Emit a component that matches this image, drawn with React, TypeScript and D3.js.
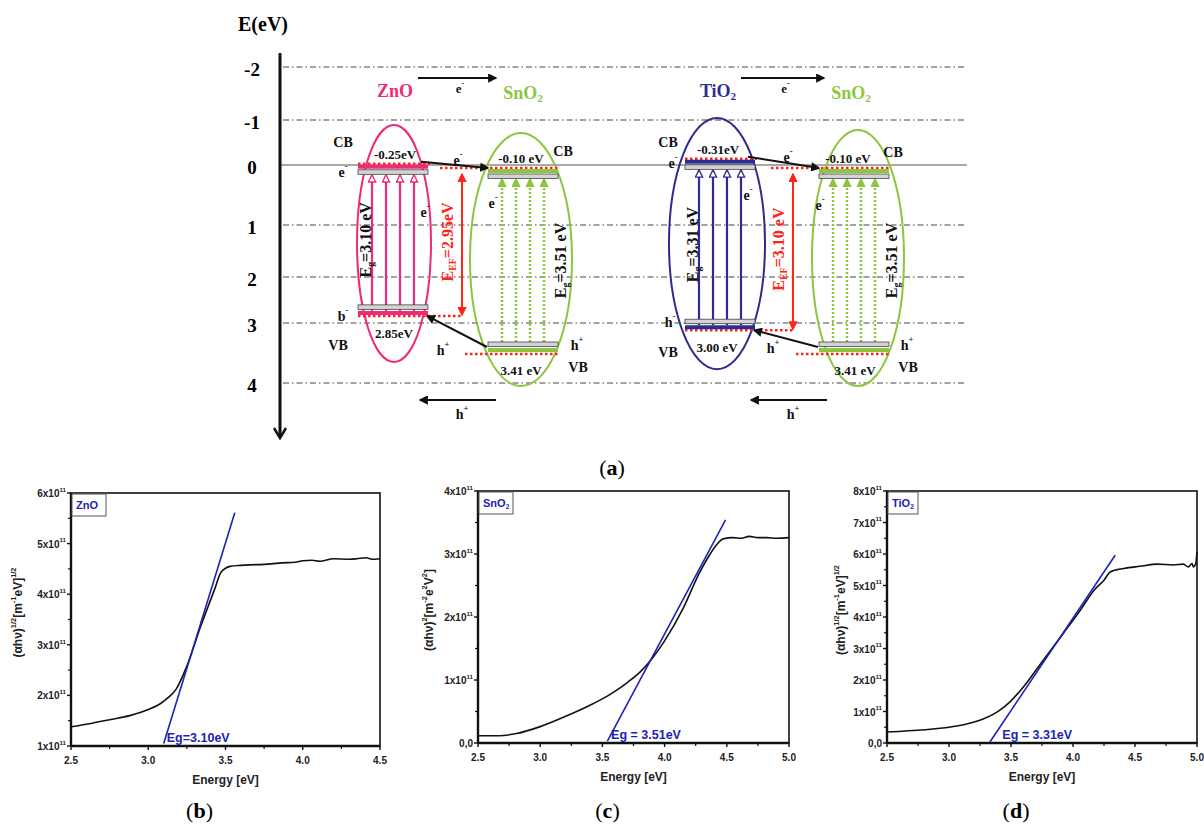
import React from 'react';
import * as d3 from 'd3';

const serif = '"Liberation Serif", "Times New Roman", serif';
const sans = '"Liberation Sans", Arial, sans-serif';

// ---------- (a) band diagram data ----------
const energyTicks = [-2, -1, 0, 1, 2, 3, 4];
const oxideNames = ['ZnO', 'SnO2', 'TiO2', 'SnO2'];
// band edges where they are drawn on the E(eV) axis
const cbLevel = [0.03, 0.1, -0.07, 0.1];
const vbLevel = [2.78, 3.45, 3.07, 3.45];
const ellipseTop = [-0.89, -0.71, -1.04, -0.78];
const ellipseBottom = [3.65, 4.05, 3.77, 4.05];
const cbText = ['-0.25eV', '-0.10 eV', '-0.31eV', '-0.10 eV'];
const vbText = ['2.85eV', '3.41 eV', '3.00 eV', '3.41 eV'];
const egText = ['=3.10 eV', '=3.51 eV', '=3.31 eV', '=3.51 eV'];
const efText = ['=2.95eV', '=3.10 eV'];

// ---------- (b)(c)(d) Tauc plots data (signal in units of 1e11) ----------
const znoEnergy = [2.5, 2.62, 2.75, 2.88, 3.0, 3.08, 3.13, 3.18, 3.25, 3.34, 3.43, 3.47, 3.53, 3.6, 3.66, 3.75, 3.87, 3.95, 4.0, 4.06, 4.11, 4.2, 4.3, 4.35, 4.41, 4.45, 4.5];
const znoSignal = [1.38, 1.44, 1.52, 1.6, 1.72, 1.84, 1.96, 2.12, 2.58, 3.37, 4.1, 4.43, 4.55, 4.57, 4.58, 4.59, 4.62, 4.63, 4.66, 4.67, 4.65, 4.7, 4.69, 4.7, 4.72, 4.69, 4.7];
const znoTangent = [[3.1, 1.05], [3.56, 5.61]];

const sno2Energy = [2.5, 2.67, 2.81, 3.0, 3.2, 3.4, 3.5, 3.6, 3.7, 3.8, 3.9, 4.0, 4.15, 4.28, 4.36, 4.42, 4.47, 4.55, 4.62, 4.68, 4.75, 4.82, 4.9, 5.0];
const sno2Signal = [0.115, 0.115, 0.15, 0.26, 0.42, 0.6, 0.7, 0.82, 0.96, 1.12, 1.34, 1.62, 2.14, 2.7, 2.98, 3.15, 3.24, 3.26, 3.25, 3.28, 3.26, 3.26, 3.25, 3.26];
const sno2Tangent = [[3.54, 0.03], [4.49, 3.54]];

const tio2Energy = [2.5, 2.8, 3.01, 3.15, 3.28, 3.39, 3.49, 3.6, 3.76, 3.92, 4.06, 4.17, 4.25, 4.3, 4.41, 4.54, 4.68, 4.81, 4.89, 4.93, 4.96, 4.97, 4.99, 5.0];
const tio2Signal = [0.35, 0.42, 0.51, 0.61, 0.77, 0.99, 1.3, 1.78, 2.63, 3.47, 4.22, 4.85, 5.17, 5.43, 5.54, 5.61, 5.68, 5.65, 5.68, 5.59, 5.7, 5.59, 5.7, 6.07];
const tio2Tangent = [[3.33, 0.03], [4.34, 5.96]];

// ---------- layout ----------
const colors = ['#ee2a7b', '#8cc63f', '#2e2d8f', '#8cc63f'];
const ellipseCx = [394, 521, 717, 858];
const ellipseRx = [37, 51, 48, 46];
const barCx = [393, 523, 720, 854];
const headerX = [395, 523, 718, 851];
const pairEfX = [462, 793];
const arrowOffsets = [-21, -7, 7, 21];
const red = '#ff2416';

const energyY = d3.scaleLinear().domain(energyTicks).range([67, 120, 165, 225, 277, 323, 383]);

type Part = [string, number?];

function Rich({ x, y, parts, size, anchor = 'middle', fill = '#111', family = serif, weight = 'bold', rotate = 0 }: any) {
  let cur = 0;
  return (
    <text transform={`translate(${x},${y}) rotate(${rotate})`} textAnchor={anchor} dominantBaseline="central"
      fontFamily={family} fontSize={size} fontWeight={weight} fill={fill}>
      {(parts as Part[]).map(([t, k = 0], i) => {
        const target = k > 0 ? -0.42 * size : k < 0 ? 0.3 * size : 0;
        const dy = target - cur;
        cur = target;
        return <tspan key={i} dy={dy} fontSize={k ? size * 0.62 : size}>{t}</tspan>;
      })}
    </text>
  );
}

const nameParts = (n: string): Part[] => (n.endsWith('2') ? [[n.slice(0, -1)], ['2', -1]] : [[n]]);
const eMinus: Part[] = [['e'], ['-', 1]];
const hPlus: Part[] = [['h'], ['+', 1]];

// free annotations of the diagram (text, x, y)
const annotations: [Part[], number, number][] = [
  [[['CB']], 343, 142], [eMinus, 343, 172], [eMinus, 425, 212], [eMinus, 458, 160],
  [[['CB']], 563, 151], [eMinus, 493, 203], [[['b'], ['-', 1]], 343, 316], [[['VB']], 338, 345],
  [hPlus, 443, 350], [hPlus, 577, 345], [[['VB']], 578, 367],
  [[['CB']], 668, 142], [eMinus, 673, 163], [eMinus, 748, 195], [eMinus, 788, 157],
  [[['CB']], 893, 152], [eMinus, 820, 205], [[['h'], ['-', 1]], 670, 322], [[['VB']], 668, 352],
  [hPlus, 773, 348], [hPlus, 907, 345], [[['VB']], 908, 367],
];

function BandDiagram() {
  const grid = energyTicks.filter((t) => t !== 0);
  return (
    <g>
      <defs>
        {[['blk', '#111', '#111'], ['red', red, red], ['pink', 'white', colors[0]], ['green', colors[1], colors[1]], ['blue', 'white', colors[2]]].map(([id, fill, stroke]) => (
          <marker key={id} id={`m-${id}`} viewBox="0 0 10 10" refX="9" refY="5" markerUnits="userSpaceOnUse"
            markerWidth="9" markerHeight="9" orient="auto-start-reverse">
            <path d="M1,1 L9,5 L1,9 z" fill={fill} stroke={stroke} strokeWidth="1.5" />
          </marker>
        ))}
      </defs>

      {/* energy axis */}
      <text x={238} y={24} fontFamily={serif} fontWeight="bold" fontSize={20} dominantBaseline="central">E(eV)</text>
      {grid.map((t) => (
        <line key={t} x1={283} x2={967} y1={energyY(t)} y2={energyY(t)} stroke="#444" strokeWidth={1} strokeDasharray="6,3,1.5,3" />
      ))}
      <line x1={280} x2={967} y1={energyY(0)} y2={energyY(0)} stroke="#555" strokeWidth={1.2} />
      {energyTicks.map((t) => (
        <text key={t} x={252} y={energyY(t) + 2} textAnchor="middle" dominantBaseline="central" fontFamily={serif}
          fontWeight="bold" fontSize={19}>{t}</text>
      ))}
      <line x1={280} x2={280} y1={53} y2={436} stroke="#111" strokeWidth={3} />
      <path d="M274,428 L280,438 L286,428" fill="none" stroke="#111" strokeWidth={2.5} />

      {/* ellipses */}
      {oxideNames.map((n, i) => {
        const t = energyY(ellipseTop[i]);
        const b = energyY(ellipseBottom[i]);
        return <ellipse key={i} cx={ellipseCx[i]} cy={(t + b) / 2} rx={ellipseRx[i]} ry={(b - t) / 2} fill="none" stroke={colors[i]} strokeWidth={2} />;
      })}

      {/* excitation arrows */}
      {oxideNames.map((n, i) => {
        const yc = energyY(cbLevel[i]);
        const yv = energyY(vbLevel[i]);
        const dotted = i % 2 === 1;
        const marker = i === 0 ? 'pink' : i === 2 ? 'blue' : 'green';
        return arrowOffsets.map((o, k) => (
          <line key={`${i}-${k}`} x1={barCx[i] + o} x2={barCx[i] + o} y1={yv - (dotted ? 8 : 2)} y2={yc + 8}
            stroke={colors[i]} strokeWidth={dotted ? 2.5 : 2.2} strokeDasharray={dotted ? '2,2' : undefined}
            markerEnd={`url(#m-${marker})`} />
        ));
      })}

      {/* red dotted Fermi levels, E_EF arrows, transfer lines */}
      {pairEfX.map((ef, p) => {
        const a = 2 * p;
        const b = a + 1;
        const yca = energyY(cbLevel[a]);
        const ycb = energyY(cbLevel[b]);
        const yva = energyY(vbLevel[a]);
        const yvb = energyY(vbLevel[b]);
        const dots = { stroke: red, strokeWidth: 2.5, strokeDasharray: '2.5,2.5' };
        const hx = (headerX[a] + headerX[b]) / 2;
        return (
          <g key={p}>
            <line x1={barCx[a] - 35} x2={barCx[a] + 37} y1={yca - 3} y2={yca - 3} {...dots} />
            <line x1={ef - 22} x2={barCx[b] + 35} y1={ycb - 3} y2={ycb - 3} {...dots} />
            <line x1={barCx[a] - 35} x2={ef} y1={yva + 3} y2={yva + 3} {...dots} />
            <line x1={ef + 3} x2={barCx[b] + 35} y1={yvb + 4} y2={yvb + 4} {...dots} />
            <line x1={ef} x2={ef} y1={ycb + 3} y2={yva + 2} stroke={red} strokeWidth={2}
              markerStart="url(#m-red)" markerEnd="url(#m-red)" />
            <Rich x={ef - 15} y={(ycb + yva) / 2} rotate={-90} size={16} fill={red}
              parts={[['E'], ['EF', -1], [efText[p]]]} />
            <line x1={barCx[a] + 28} x2={barCx[b] - 35} y1={yca - 5} y2={ycb - 3} stroke="#111" strokeWidth={2}
              markerEnd="url(#m-blk)" />
            <line x1={barCx[b] - 36} x2={barCx[a] + 34} y1={yvb - 3} y2={yva + 3} stroke="#111" strokeWidth={2}
              markerEnd="url(#m-blk)" />
            {/* header */}
            <Rich x={headerX[a]} y={91} size={18} fill={colors[a]} parts={nameParts(oxideNames[a])} />
            <Rich x={headerX[b]} y={93} size={18} fill={colors[b]} parts={nameParts(oxideNames[b])} />
            <line x1={headerX[a] + 23} x2={headerX[b] - 27} y1={78} y2={78} stroke="#111" strokeWidth={2}
              markerEnd="url(#m-blk)" />
            <Rich x={hx + 1} y={88} size={13} parts={eMinus} />
            {/* hole arrow at bottom */}
            <line x1={ef + 34} x2={ef - 42} y1={400} y2={400} stroke="#111" strokeWidth={2.2} markerEnd="url(#m-blk)" />
            <Rich x={ef} y={414} size={14} parts={hPlus} />
          </g>
        );
      })}

      {/* band bars and labels */}
      {oxideNames.map((n, i) => {
        const yc = energyY(cbLevel[i]);
        const yv = energyY(vbLevel[i]);
        const x0 = barCx[i] - 35;
        const mid = (yc + yv) / 2;
        const egX = i % 2 === 0 ? barCx[i] - 28 : barCx[i] + 37;
        return (
          <g key={i}>
            <rect x={x0} y={yc + 3} width={70} height={4.5} fill="#d4d4d4" stroke="#444" strokeWidth={0.8} />
            <line x1={x0} x2={x0 + 70} y1={yc} y2={yc} stroke={colors[i]} strokeWidth={4} />
            <rect x={x0} y={yv - 8} width={70} height={4.5} fill="#d4d4d4" stroke="#444" strokeWidth={0.8} />
            <line x1={x0} x2={x0 + 70} y1={yv} y2={yv} stroke={colors[i]} strokeWidth={4} />
            <Rich x={ellipseCx[i] + (i === 1 ? 0 : i === 3 ? -10 : 1)} y={yc - 13} size={13} parts={[[cbText[i]]]} />
            <Rich x={ellipseCx[i] + (i === 3 ? -3 : 0)} y={yv + 20} size={13} parts={[[vbText[i]]]} />
            <Rich x={egX} y={mid} rotate={-90} size={16} parts={[['E'], ['g', -1], [egText[i]]]} />
          </g>
        );
      })}

      {annotations.map(([parts, x, y], i) => (
        <Rich key={i} x={x} y={y} size={14} parts={parts} />
      ))}

      <text x={612} y={467} textAnchor="middle" dominantBaseline="central" fontFamily={serif} fontSize={22}>
        (<tspan fontWeight="bold">a</tspan>)
      </text>
    </g>
  );
}

// ---------- Tauc panels ----------
const panels = [
  {
    id: 'b', box: [71, 380, 493, 746], xDom: [2.5, 4.5], yDom: [1, 6], energy: znoEnergy, signal: znoSignal,
    tangent: znoTangent, name: 'ZnO', legendW: 34, eg: 'Eg=3.10eV', egX: 3.12,
    yLabel: [['(αhν)'], ['1/2', 1], ['[m'], ['-1', 1], ['eV]'], ['1/2', 1]] as Part[], yLabelX: 18,
  },
  {
    id: 'c', box: [478, 789, 491, 743], xDom: [2.5, 5.0], yDom: [0, 4], energy: sno2Energy, signal: sno2Signal,
    tangent: sno2Tangent, name: 'SnO2', legendW: 34, eg: 'Eg = 3.51eV', egX: 3.57,
    yLabel: [['(αhν)'], ['2', 1], ['[m'], ['-2', 1], ['e'], ['2', 1], ['V'], ['2', 1], [']']] as Part[], yLabelX: 429,
  },
  {
    id: 'd', box: [887, 1197, 491, 743], xDom: [2.5, 5.0], yDom: [0, 8], energy: tio2Energy, signal: tio2Signal,
    tangent: tio2Tangent, name: 'TiO2', legendW: 30, eg: 'Eg = 3.31eV', egX: 3.43,
    yLabel: [['(αhν)'], ['1/2', 1], ['[m'], ['-1', 1], ['eV]'], ['1/2', 1]] as Part[], yLabelX: 841,
  },
];

function Panel({ p }: any) {
  const [l, r, t, b] = p.box;
  const x = d3.scaleLinear().domain(p.xDom).range([l, r]);
  const y = d3.scaleLinear().domain(p.yDom).range([b, t]);
  const xt = d3.range(p.xDom[0], p.xDom[1] + 0.001, 0.5);
  const xm = d3.range(p.xDom[0] + 0.25, p.xDom[1], 0.5);
  const yt = d3.range(p.yDom[0], p.yDom[1] + 0.001, 1);
  const ym = d3.range(p.yDom[0] + 0.5, p.yDom[1], 1);
  const line = d3.line<number>().x((d, i) => x(p.energy[i])).y((d) => y(d)).curve(d3.curveMonotoneX);
  const tan = d3.line<number[]>().x((d) => x(d[0])).y((d) => y(d[1]));
  const blue = '#1c22b4';
  return (
    <g>
      <path d={line(p.signal) || ''} fill="none" stroke="#111" strokeWidth={1.6} />
      <path d={tan(p.tangent) || ''} fill="none" stroke={blue} strokeWidth={1.6} />
      <rect x={l} y={t} width={r - l} height={b - t} fill="none" stroke="#111" strokeWidth={1.6} />
      <line x1={l} x2={l} y1={t} y2={b} stroke="#111" strokeWidth={2.4} />
      <line x1={l} x2={r} y1={b} y2={b} stroke="#111" strokeWidth={2.4} />
      {xt.map((v) => (
        <g key={v}>
          <line x1={x(v)} x2={x(v)} y1={b} y2={b + 4} stroke="#111" strokeWidth={1.4} />
          <text x={x(v)} y={b + 14} textAnchor="middle" dominantBaseline="central" fontFamily={sans} fontWeight="bold" fontSize={10} fill="#222">{v.toFixed(1)}</text>
        </g>
      ))}
      {xm.map((v) => <line key={v} x1={x(v)} x2={x(v)} y1={b} y2={b + 3} stroke="#111" strokeWidth={1.2} />)}
      {yt.map((v) => (
        <g key={v}>
          <line x1={l - 4} x2={l} y1={y(v)} y2={y(v)} stroke="#111" strokeWidth={1.4} />
          <Rich x={l - 5} y={y(v)} size={10} anchor="end" family={sans} fill="#222"
            parts={v === 0 ? [['0,0']] : [[`${v}x10`], ['11', 1]]} />
        </g>
      ))}
      {ym.map((v) => <line key={v} x1={l - 3} x2={l} y1={y(v)} y2={y(v)} stroke="#111" strokeWidth={1.2} />)}
      <rect x={l + 1} y={t + 1} width={p.legendW} height={22} fill="white" stroke="#555" strokeWidth={1} />
      <Rich x={l + 5} y={t + 12} size={11} anchor="start" family={sans} fill={blue} parts={nameParts(p.name)} />
      <text x={x(p.egX)} y={b - 8} fontFamily={sans} fontWeight="bold" fontSize={12.5} fill={blue} dominantBaseline="central">{p.eg}</text>
      <text x={(l + r) / 2} y={b + 34} textAnchor="middle" dominantBaseline="central" fontFamily={sans} fontWeight="bold" fontSize={12} fill="#222">Energy [eV]</text>
      <Rich x={p.yLabelX} y={(t + b) / 2 - 7} rotate={-90} size={12} family={sans} fill="#222" parts={p.yLabel} />
      <text x={(l + r) / 2 - 26} y={810} textAnchor="middle" dominantBaseline="central" fontFamily={serif} fontSize={22}>
        (<tspan fontWeight="bold">{p.id}</tspan>)
      </text>
    </g>
  );
}

export default function App() {
  return (
    <svg width={1204} height={825} style={{ position: 'absolute', left: 0, top: 0, background: 'white' }}>
      <rect width={1204} height={825} fill="white" />
      <BandDiagram />
      {panels.map((p) => <Panel key={p.id} p={p} />)}
    </svg>
  );
}
